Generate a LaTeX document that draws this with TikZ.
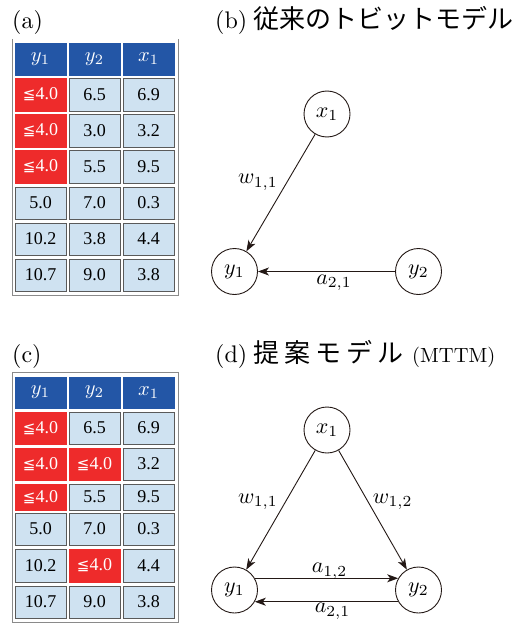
\RequirePackage{fix-cm}
\documentclass[tikz,border=0pt]{standalone}
\usepackage{fontspec}
\usepackage{graphicx}
\newfontfamily\cjk{Noto Sans CJK JP}
\newfontfamily\tnr{Liberation Serif}
\newfontfamily\dvs{DejaVu Sans}
\usetikzlibrary{arrows.meta}
\definecolor{hdrblue}{HTML}{2356A6}
\definecolor{cellblue}{HTML}{CFE2F1}
\definecolor{cellred}{HTML}{EE2B2B}
\definecolor{cellline}{HTML}{5A5A5A}
\definecolor{framegray}{HTML}{8A8A8A}
\definecolor{ink}{HTML}{231815}
\newcommand{\censv}{{\dvs\fontsize{15}{15}\selectfont ≦}4.0}
\newcommand{\tc}[6]{\node[#2, minimum height=#5pt] (#1) at (#3,#4) {#6};}
\newcommand{\mth}[2][2.2]{\scalebox{#1}{$#2$}}
\newcommand{\ttl}[2][2.4]{\scalebox{#1}{#2}}
\begin{document}
\begin{tikzpicture}[x=1pt, y=-1pt,
  tcell/.style={draw=cellline, fill=cellblue, minimum width=51pt, inner sep=0pt,
    font=\tnr\fontsize{18}{18}\selectfont, text=black, line width=0.7pt},
  rcell/.style={tcell, fill=cellred, draw=cellred, text=white},
  hcell/.style={tcell, fill=hdrblue, draw=hdrblue, text=white, font=\fontsize{10}{12}\selectfont},
  frame/.style={draw=framegray, line width=0.9pt},
  title/.style={anchor=base west, inner sep=0pt, font=\fontsize{10}{12}\selectfont},
  vnode/.style={circle, draw=ink, line width=0.9pt, minimum size=46pt, inner sep=0pt, font=\fontsize{10}{12}\selectfont},
  edge/.style={draw=ink, line width=0.9pt, -{Stealth[length=11pt,width=8pt,inset=3pt]}},
  lbl/.style={inner sep=0pt, font=\fontsize{10}{12}\selectfont}]
\useasboundingbox (0,0) rectangle (518,623);

% ---------- titles ----------
\node[title] (ta) at (12,29) {\ttl{(a)}};
\node[title] (tb) at (215,29) {\ttl{(b)}\hspace{6pt}{\cjk\fontsize{26}{26}\selectfont 従来のトビットモデル}};
\node[title] (tcc) at (12,362) {\ttl{(c)}};
\node[title] (td) at (215,362) {\ttl{(d)}\hspace{6pt}{\cjk\fontsize{26}{26}\selectfont 提\hspace{5pt}案\hspace{5pt}モ\hspace{5pt}デ\hspace{5pt}ル}\hspace{9pt}\ttl[2.05]{(MTTM)}};

% ---------- table (a) ----------
\draw[frame] (12,39) -- (12,295) -- (178,295) -- (178,39);
\tc{ah1}{hcell}{40.5}{59}{32}{\mth[2.05]{y_1}}
\tc{ah2}{hcell}{94.5}{59}{32}{\mth[2.05]{y_2}}
\tc{ah3}{hcell}{148.5}{59}{32}{\mth[2.05]{x_1}}
\tc{a11}{rcell}{40.5}{94.5}{33}{\censv}
\tc{a12}{tcell}{94.5}{94.5}{33}{6.5}
\tc{a13}{tcell}{148.5}{94.5}{33}{6.9}
\tc{a21}{rcell}{40.5}{130.5}{33}{\censv}
\tc{a22}{tcell}{94.5}{130.5}{33}{3.0}
\tc{a23}{tcell}{148.5}{130.5}{33}{3.2}
\tc{a31}{rcell}{40.5}{166.5}{33}{\censv}
\tc{a32}{tcell}{94.5}{166.5}{33}{5.5}
\tc{a33}{tcell}{148.5}{166.5}{33}{9.5}
\tc{a41}{tcell}{40.5}{203}{32}{5.0}
\tc{a42}{tcell}{94.5}{203}{32}{7.0}
\tc{a43}{tcell}{148.5}{203}{32}{0.3}
\tc{a51}{tcell}{40.5}{239}{32}{10.2}
\tc{a52}{tcell}{94.5}{239}{32}{3.8}
\tc{a53}{tcell}{148.5}{239}{32}{4.4}
\tc{a61}{tcell}{40.5}{275}{32}{10.7}
\tc{a62}{tcell}{94.5}{275}{32}{9.0}
\tc{a63}{tcell}{148.5}{275}{32}{3.8}

% ---------- table (c) ----------
\draw[frame] (12,372) rectangle (178,622);
\tc{ch1}{hcell}{40.5}{392.5}{31}{\mth[2.05]{y_1}}
\tc{ch2}{hcell}{94.5}{392.5}{31}{\mth[2.05]{y_2}}
\tc{ch3}{hcell}{148.5}{392.5}{31}{\mth[2.05]{x_1}}
\tc{c11}{rcell}{40.5}{428}{32}{\censv}
\tc{c12}{tcell}{94.5}{428}{32}{6.5}
\tc{c13}{tcell}{148.5}{428}{32}{6.9}
\tc{c21}{rcell}{40.5}{464}{32}{\censv}
\tc{c22}{rcell}{94.5}{464}{32}{\censv}
\tc{c23}{tcell}{148.5}{464}{32}{3.2}
\tc{c31}{rcell}{40.5}{497}{26}{\censv}
\tc{c32}{tcell}{94.5}{497}{26}{5.5}
\tc{c33}{tcell}{148.5}{497}{26}{9.5}
\tc{c41}{tcell}{40.5}{529}{32}{5.0}
\tc{c42}{tcell}{94.5}{529}{32}{7.0}
\tc{c43}{tcell}{148.5}{529}{32}{0.3}
\tc{c51}{tcell}{40.5}{565.5}{33}{10.2}
\tc{c52}{rcell}{94.5}{565.5}{33}{\censv}
\tc{c53}{tcell}{148.5}{565.5}{33}{4.4}
\tc{c61}{tcell}{40.5}{602}{32}{10.7}
\tc{c62}{tcell}{94.5}{602}{32}{9.0}
\tc{c63}{tcell}{148.5}{602}{32}{3.8}

% ---------- graph (b) ----------
\node[vnode] (bx) at (327,114) {\mth{x_1}};
\node[vnode] (by1) at (234.5,271.5) {\mth{y_1}};
\node[vnode] (by2) at (418.5,271.5) {\mth{y_2}};
\draw[edge] (bx) -- node[lbl, pos=0.41, xshift=-29pt] (bw11) {\mth{w_{1,1}}} (by1);
\draw[edge] (by2) -- node[lbl, xshift=7.5pt, yshift=-11.5pt] (ba21) {\mth{a_{2,1}}} (by1);

% ---------- graph (d) ----------
\node[vnode] (dx) at (327,430) {\mth{x_1}};
\node[vnode] (dy1) at (234.5,590) {\mth{y_1}};
\node[vnode] (dy2) at (418.5,590) {\mth{y_2}};
\draw[edge] (dx) -- node[lbl, pos=0.433, xshift=-27.5pt] (dw11) {\mth{w_{1,1}}} (dy1);
\draw[edge] (dx) -- node[lbl, pos=0.433, xshift=24.5pt] (dw12) {\mth{w_{1,2}}} (dy2);
\draw[edge] (dy1.30) -- node[lbl, xshift=3pt, yshift=7pt] (da12) {\mth{a_{1,2}}} (dy2.150);
\draw[edge] (dy2.-150) -- node[lbl, xshift=6pt, yshift=-9.5pt] (da21) {\mth{a_{2,1}}} (dy1.-30);
\end{tikzpicture}
\end{document}
